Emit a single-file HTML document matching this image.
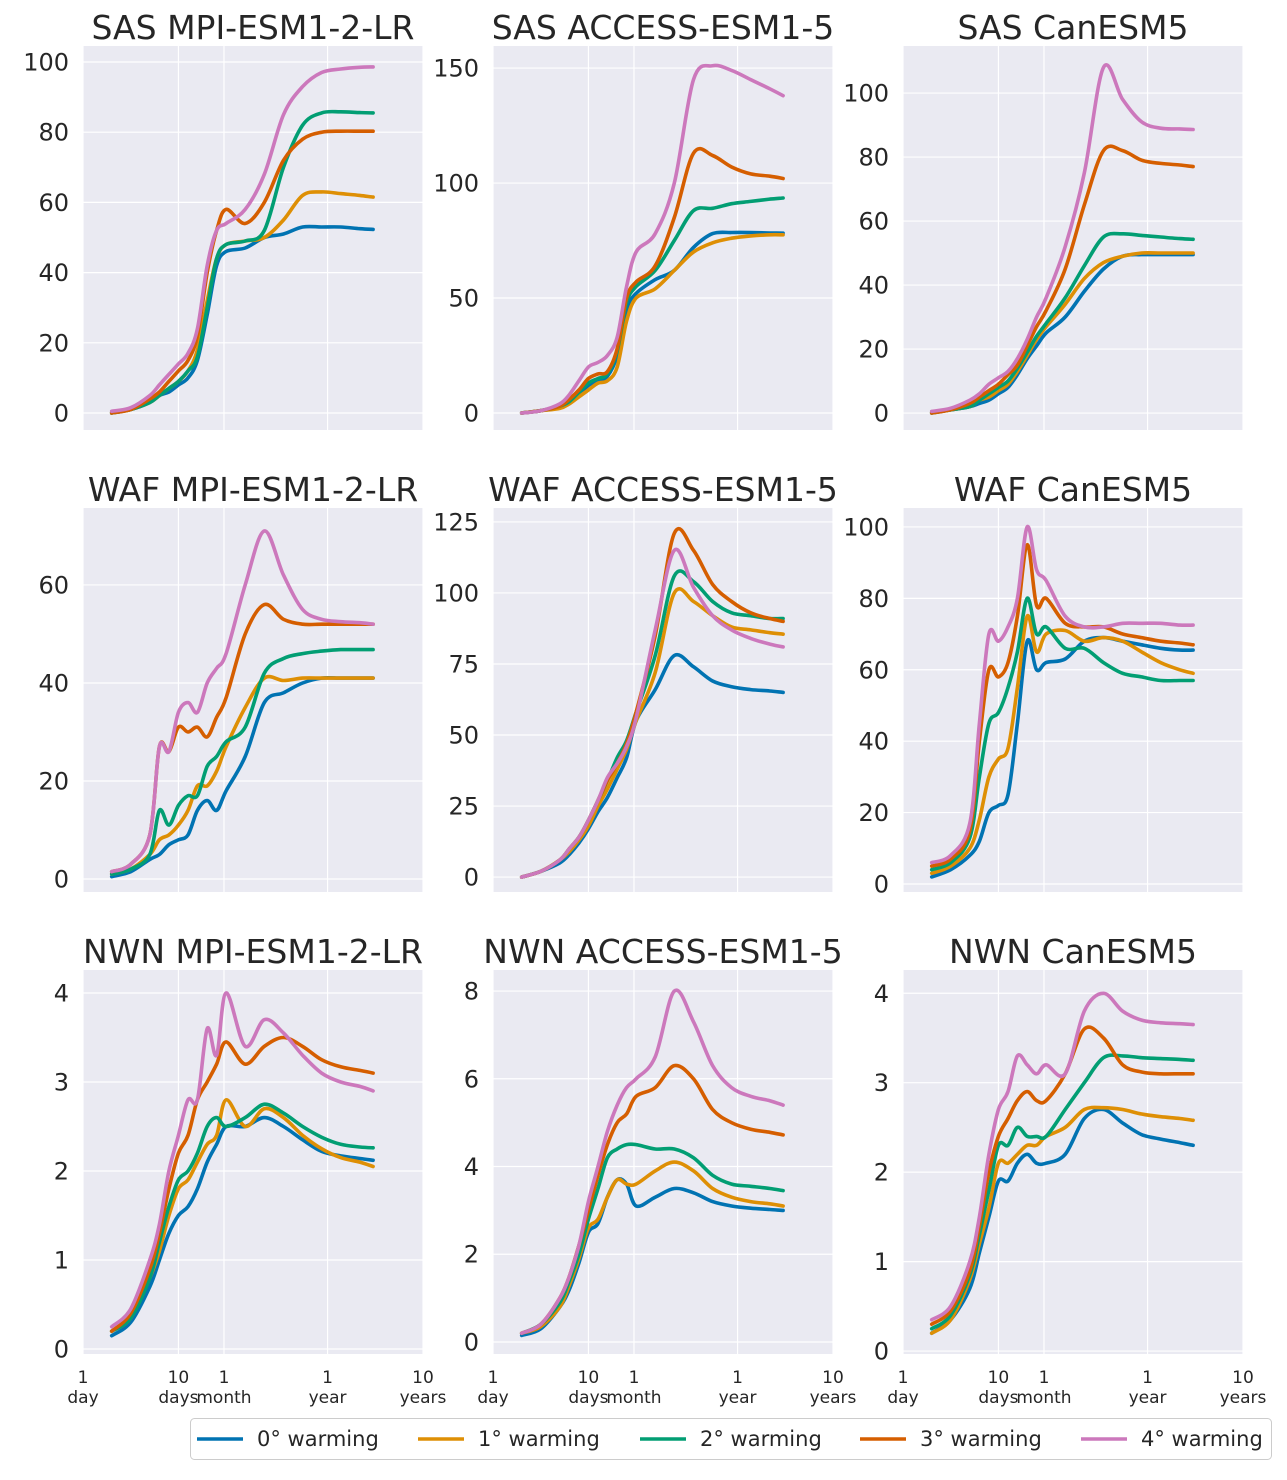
<!DOCTYPE html>
<html><head><meta charset="utf-8"><style>
html,body{margin:0;padding:0;background:#fff;}
svg text{font-family:"DejaVu Sans","Liberation Sans",sans-serif;fill:#262626;}
</style></head><body>
<svg id="fig" width="1287" height="1475" viewBox="0 0 1287 1475" xmlns="http://www.w3.org/2000/svg"></svg>
<script>
// Sample times (days) shared by all series
const days = [2,3.16,5.01,6.31,7.94,10,12.6,15.8,20,25.1,31.6,50.1,79.4,126,200,316,501,794,1096];
const seriesNames = ["0° warming","1° warming","2° warming","3° warming","4° warming"];
const colors = ["#0173b2","#de8f05","#029e73","#d55e00","#cc78bc"];
const xTickDays = [1,10,30,365,3650];
const xTickTop = ["1","10","1","1","10"];
const xTickBottom = ["day","days","month","year","years"];

// SAS MPI-ESM1-2-LR
const sasMpi0 = [0,1,3,5,6,8,10,15,28,42,46,47,50,51,53,53,53,52.5,52.3];
const sasMpi1 = [0,1,3,5,7,9,12,18,32,44,48,49,50,55,62,63,62.5,62,61.5];
const sasMpi2 = [0,1,3,5,7,9,12,16,30,44,48,49,52,70,82,85.5,85.8,85.6,85.5];
const sasMpi3 = [0,1,4,6,9,12,15,22,40,52,58,54,60,72,78,80,80.3,80.3,80.3];
const sasMpi4 = [0.5,1.5,5,8,11,14,17,24,42,52,54,58,68,85,93,97,98,98.5,98.6];
// SAS ACCESS-ESM1-5
const sasAcc0 = [0,1,3,5,8,12,14,16,25,45,52,58,62,72,78,78.5,78.5,78.3,78.2];
const sasAcc1 = [0,1,2,4,7,10,13,14,20,40,50,54,62,70,74,76,77,77.5,77.5];
const sasAcc2 = [0,1,3,5,9,13,15,17,27,48,55,62,75,88,89,91,92,93,93.5];
const sasAcc3 = [0,1,3,6,10,15,17,18,28,50,57,64,85,113,112,107,104,103,102];
const sasAcc4 = [0,1,4,8,14,20,22,25,33,55,70,78,100,145,151,149,145,141,138];
// SAS CanESM5
const sasCan0 = [0,1,2,3,4,6,8,12,17,21,25,30,38,45,49,49.5,49.5,49.5,49.5];
const sasCan1 = [0,1,2,4,5,7,9,13,18,23,27,34,42,47,49,50,50,50,50];
const sasCan2 = [0,1,2,4,6,8,10,14,19,24,28,36,46,55,56,55.5,55,54.5,54.3];
const sasCan3 = [0,1,3,5,7,9,12,15,21,27,32,45,65,82,82,79,78,77.5,77];
const sasCan4 = [0.5,1.5,4,6,9,11,13,17,23,30,36,52,75,108,98,91,89,88.8,88.6];
// WAF MPI-ESM1-2-LR
const wafMpi0 = [0.5,1.5,4,5,7,8,9,14,16,14,18,25,36,38,40,41,41,41,41];
const wafMpi1 = [1,2,5,8,9,11,14,19,19,22,27,35,41,40.5,41,41,41,41,41];
const wafMpi2 = [1,2,5,14,11,15,17,17,23,25,28,31,42,45,46,46.5,46.8,46.8,46.8];
const wafMpi3 = [1.5,3,9,27,26,31,30,31,29,33,37,50,56,53,52,52,52,52,52];
const wafMpi4 = [1.5,3,9,27,26,34,36,34,40,43,46,60,71,62,55,53,52.5,52.3,52];
// WAF ACCESS-ESM1-5
const wafAcc0 = [0,2,5,8,12,17,23,28,35,42,55,66,78,74,69,67,66,65.5,65];
const wafAcc1 = [0,2,6,9,13,18,25,31,38,45,55,72,100,97,92,88,87,86,85.5];
const wafAcc2 = [0,2,6,10,14,20,27,34,42,48,58,78,106,104,97,93,92,91,91];
const wafAcc3 = [0,2,6,10,14,20,27,34,40,47,58,85,121,115,103,97,93,91,90];
const wafAcc4 = [0,2,6,10,14,20,27,35,40,46,56,87,115,102,92,87,84,82,81];
// WAF CanESM5
const wafCan0 = [2,4,8,12,20,22,25,45,68,60,62,63,68,69,68,67,66,65.5,65.5];
const wafCan1 = [3,5,10,18,30,35,38,55,75,65,70,71,68,69,68,65,62,60,59];
const wafCan2 = [4,6,13,30,45,48,55,65,80,70,72,66,66,62,59,58,57,57,57];
const wafCan3 = [5,7,15,40,60,58,62,75,95,78,80,73,72,72,70,69,68,67.5,67];
const wafCan4 = [6,8,17,45,70,68,72,80,100,88,85,75,72,72,73,73,73,72.5,72.5];
// NWN MPI-ESM1-2-LR
const nwnMpi0 = [0.15,0.3,0.7,1.0,1.3,1.5,1.6,1.8,2.1,2.3,2.5,2.5,2.6,2.5,2.35,2.22,2.17,2.14,2.12];
const nwnMpi1 = [0.2,0.35,0.8,1.1,1.5,1.8,1.9,2.1,2.3,2.4,2.8,2.5,2.7,2.6,2.4,2.25,2.15,2.1,2.05];
const nwnMpi2 = [0.2,0.35,0.8,1.2,1.6,1.9,2.0,2.2,2.5,2.6,2.5,2.6,2.75,2.65,2.5,2.38,2.3,2.27,2.26];
const nwnMpi3 = [0.2,0.4,0.9,1.3,1.8,2.2,2.4,2.8,3.0,3.2,3.45,3.2,3.4,3.5,3.4,3.25,3.17,3.13,3.1];
const nwnMpi4 = [0.25,0.45,1.0,1.4,2.0,2.4,2.8,2.8,3.6,3.3,4.0,3.4,3.7,3.55,3.3,3.1,3.0,2.95,2.9];
// NWN ACCESS-ESM1-5
const nwnAcc0 = [0.15,0.3,0.8,1.2,1.8,2.5,2.7,3.3,3.7,3.6,3.1,3.3,3.5,3.4,3.2,3.1,3.05,3.02,3.0];
const nwnAcc1 = [0.2,0.35,0.8,1.3,1.9,2.6,2.8,3.3,3.7,3.6,3.6,3.9,4.1,3.9,3.5,3.3,3.2,3.15,3.1];
const nwnAcc2 = [0.2,0.4,0.9,1.4,2.0,2.8,3.5,4.2,4.4,4.5,4.5,4.4,4.4,4.2,3.8,3.6,3.55,3.5,3.45];
const nwnAcc3 = [0.2,0.4,1.0,1.5,2.2,3.0,3.8,4.5,5.0,5.2,5.6,5.8,6.3,6.0,5.3,5.0,4.85,4.78,4.72];
const nwnAcc4 = [0.2,0.4,1.0,1.5,2.2,3.2,4.0,4.8,5.4,5.8,6.0,6.5,8.0,7.3,6.3,5.8,5.6,5.5,5.4];
// NWN CanESM5
const nwnCan0 = [0.2,0.35,0.7,1.1,1.5,1.9,1.9,2.1,2.2,2.1,2.1,2.2,2.6,2.7,2.55,2.42,2.37,2.33,2.3];
const nwnCan1 = [0.2,0.35,0.8,1.2,1.6,2.1,2.1,2.2,2.3,2.3,2.4,2.5,2.7,2.72,2.7,2.65,2.62,2.6,2.58];
const nwnCan2 = [0.25,0.4,0.85,1.3,1.8,2.3,2.3,2.5,2.4,2.4,2.4,2.7,3.0,3.28,3.3,3.28,3.27,3.26,3.25];
const nwnCan3 = [0.3,0.45,0.9,1.4,2.0,2.4,2.6,2.8,2.9,2.8,2.8,3.1,3.6,3.5,3.2,3.12,3.1,3.1,3.1];
const nwnCan4 = [0.35,0.5,1.0,1.5,2.2,2.7,2.9,3.3,3.2,3.1,3.2,3.1,3.8,4.0,3.8,3.7,3.67,3.66,3.65];

const panelTitles = ["SAS MPI-ESM1-2-LR","SAS ACCESS-ESM1-5","SAS CanESM5","WAF MPI-ESM1-2-LR","WAF ACCESS-ESM1-5","WAF CanESM5","NWN MPI-ESM1-2-LR","NWN ACCESS-ESM1-5","NWN CanESM5"];
const panelSeries = [
 [sasMpi0,sasMpi1,sasMpi2,sasMpi3,sasMpi4],[sasAcc0,sasAcc1,sasAcc2,sasAcc3,sasAcc4],[sasCan0,sasCan1,sasCan2,sasCan3,sasCan4],
 [wafMpi0,wafMpi1,wafMpi2,wafMpi3,wafMpi4],[wafAcc0,wafAcc1,wafAcc2,wafAcc3,wafAcc4],[wafCan0,wafCan1,wafCan2,wafCan3,wafCan4],
 [nwnMpi0,nwnMpi1,nwnMpi2,nwnMpi3,nwnMpi4],[nwnAcc0,nwnAcc1,nwnAcc2,nwnAcc3,nwnAcc4],[nwnCan0,nwnCan1,nwnCan2,nwnCan3,nwnCan4]];
const yTicks = [[0,20,40,60,80,100],[0,50,100,150],[0,20,40,60,80,100],[0,20,40,60],[0,25,50,75,100,125],[0,20,40,60,80,100],[0,1,2,3,4],[0,2,4,6,8],[0,1,2,3,4]];
const yMin = [-4.84,-7.39,-5.3,-2.65,-5.25,-2.24,-0.056,-0.274,-0.033];
const yMax = [104.56,159.6,114.7,75.7,129.9,105.3,4.258,8.48,4.26];

const NS="http://www.w3.org/2000/svg";
const svg=document.getElementById('fig');
function mk(tag,attrs,parent){const e=document.createElementNS(NS,tag);for(const k in attrs)e.setAttribute(k,attrs[k]);(parent||svg).appendChild(e);return e;}
const colLeft=[83,493,903], rowTop=[46,508,970], PW=340, PH=384;
const xMinLog=0, xMaxLog=Math.log10(3650);

function smoothPath(pts){
  let d="M"+pts[0][0].toFixed(1)+","+pts[0][1].toFixed(1);
  for(let i=0;i<pts.length-1;i++){
    const p0=pts[i-1]||pts[i],p1=pts[i],p2=pts[i+1],p3=pts[i+2]||p2;
    const c1=[p1[0]+(p2[0]-p0[0])/6,p1[1]+(p2[1]-p0[1])/6];
    const c2=[p2[0]-(p3[0]-p1[0])/6,p2[1]-(p3[1]-p1[1])/6];
    d+=" C"+c1[0].toFixed(1)+","+c1[1].toFixed(1)+" "+c2[0].toFixed(1)+","+c2[1].toFixed(1)+" "+p2[0].toFixed(1)+","+p2[1].toFixed(1);
  }
  return d;
}

for(let p=0;p<9;p++){
  const r=Math.floor(p/3), c=p%3;
  const L=colLeft[c], T=rowTop[r];
  const xs=d=>L+(Math.log10(d)-xMinLog)/(xMaxLog-xMinLog)*PW;
  const ys=v=>T+PH-(v-yMin[p])/(yMax[p]-yMin[p])*PH;
  const g=mk('g',{});
  
  
  const bg=mk('rect',{x:L,y:T,width:PW,height:PH,fill:'#eaeaf2'},g);
  
  
  xTickDays.forEach((d,i)=>{
    const gl=mk('line',{x1:xs(d),x2:xs(d),y1:T,y2:T+PH,stroke:'#fff','stroke-width':1.2},g);
    
    
    if(r===2){
      const t1=mk('text',{x:xs(d),y:1383,'text-anchor':'middle','font-size':17},g);t1.textContent=xTickTop[i];
      
      
      const t2=mk('text',{x:xs(d),y:1403,'text-anchor':'middle','font-size':17},g);t2.textContent=xTickBottom[i];
      
      
    }
  });
  yTicks[p].forEach(v=>{
    const gl=mk('line',{x1:L,x2:L+PW,y1:ys(v),y2:ys(v),stroke:'#fff','stroke-width':1.2},g);
    
    
    const t=mk('text',{x:L-14,y:ys(v)+8.5,'text-anchor':'end','font-size':24},g);t.textContent=String(v);
    
    
  });
  panelSeries[p].forEach((vals,si)=>{
    const pts=vals.map((v,i)=>[xs(days[i]),ys(v)]);
    const path=mk('path',{d:smoothPath(pts),fill:'none',stroke:colors[si],'stroke-width':3.6,'stroke-linejoin':'round','stroke-linecap':'round'},g);
    
    
  });
  const title=mk('text',{x:L+PW/2,y:T-7,'text-anchor':'middle','font-size':33},g);title.textContent=panelTitles[p];
  
  
}

// legend
const lg=mk('g',{});


const lbox=mk('rect',{x:190.5,y:1418.5,width:1081,height:41,rx:4,fill:'#fff',stroke:'#cccccc','stroke-width':1},lg);


const legX=[197,418,640,860,1081];
seriesNames.forEach((n,i)=>{
  const ln=mk('line',{x1:legX[i],x2:legX[i]+46,y1:1439,y2:1439,stroke:colors[i],'stroke-width':3.6},lg);
  
  
  const t=mk('text',{x:legX[i]+60,y:1446,'font-size':21},lg);t.textContent=n;
  
  
});
</script>
</body></html>
